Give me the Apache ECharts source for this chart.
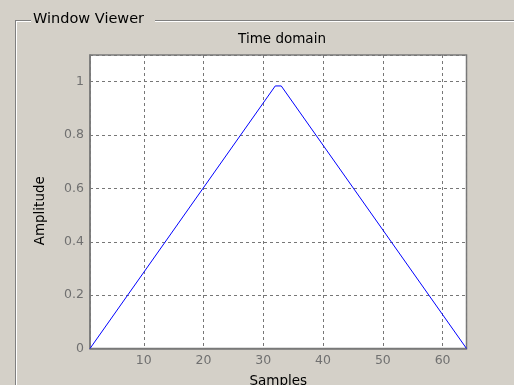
<!DOCTYPE html>
<html>
<head>
<meta charset="utf-8">
<script src="https://cdn.jsdelivr.net/npm/echarts@6/dist/echarts.min.js"></script>
<style>
  html, body { margin: 0; padding: 0; background: #d4d0c8; }
  #chart { width: 514px; height: 385px; }
</style>
</head>
<body>
<div id="chart"></div>
<script>
// Bartlett window vertices: sample index and amplitude
var sampleIdx = [1, 32, 33, 64];
var amplitude = [0, 0.984, 0.984, 0];

var panelTitle = 'Window Viewer';
var plotTitle = 'Time domain';
var xName = 'Samples';
var yName = 'Amplitude';

var FONT = 'DejaVu Sans';
var GRAY = '#7a7a7a';

var chart = echarts.init(document.getElementById('chart'), null, { renderer: 'canvas' });

var points = sampleIdx.map(function (x, i) { return [x, amplitude[i]]; });

chart.setOption({
  backgroundColor: '#d4d0c8',
  animation: false,
  title: {
    text: plotTitle,
    left: 277,
    top: 27,
    textAlign: 'center',
    textStyle: { fontFamily: FONT, fontSize: 13.5, fontWeight: 'normal', color: '#000' }
  },
  graphic: [
    // etched group-box frame
    { type: 'line', shape: { x1: 15, y1: 20.5, x2: 31, y2: 20.5 }, style: { stroke: '#808080', lineWidth: 1 }, silent: true },
    { type: 'line', shape: { x1: 16, y1: 21.5, x2: 31, y2: 21.5 }, style: { stroke: '#ffffff', lineWidth: 1 }, silent: true },
    { type: 'line', shape: { x1: 155, y1: 20.5, x2: 514, y2: 20.5 }, style: { stroke: '#808080', lineWidth: 1 }, silent: true },
    { type: 'line', shape: { x1: 155, y1: 21.5, x2: 514, y2: 21.5 }, style: { stroke: '#ffffff', lineWidth: 1 }, silent: true },
    { type: 'line', shape: { x1: 15.5, y1: 20, x2: 15.5, y2: 385 }, style: { stroke: '#808080', lineWidth: 1 }, silent: true },
    { type: 'line', shape: { x1: 16.5, y1: 21, x2: 16.5, y2: 385 }, style: { stroke: '#ffffff', lineWidth: 1 }, silent: true },
    {
      type: 'text', left: 33, top: 12, silent: true,
      style: { text: panelTitle, fontFamily: FONT, fontSize: 14.5, fill: '#000' }
    }
  ],
  grid: {
    left: 90, top: 55, right: 47.5, bottom: 36.5,
    outerBoundsMode: 'none', containLabel: false,
    show: true, backgroundColor: '#ffffff', borderColor: GRAY, borderWidth: 1.5
  },
  xAxis: {
    type: 'value', min: 1, max: 64,
    name: xName, nameLocation: 'middle', nameGap: 25.5,
    nameTextStyle: { fontFamily: FONT, fontSize: 13.5, color: '#000' },
    axisLine: { show: true, lineStyle: { color: GRAY, width: 1.5 } },
    axisTick: { show: false },
    axisLabel: {
      showMinLabel: false, showMaxLabel: false, margin: 6,
      fontFamily: FONT, fontSize: 12.5, color: '#707070'
    },
    splitLine: { show: true, lineStyle: { color: '#777', type: [3, 3], width: 1 } }
  },
  yAxis: {
    type: 'value', min: 0, max: 1.1, interval: 0.2,
    name: yName, nameLocation: 'middle', nameGap: 43, nameRotate: 90,
    nameTextStyle: { fontFamily: FONT, fontSize: 13.5, color: '#000', padding: [0, 18, 0, 0] },
    axisLine: { show: true, lineStyle: { color: GRAY, width: 1.5 } },
    axisTick: { show: false },
    axisLabel: {
      showMaxLabel: false, margin: 6,
      fontFamily: FONT, fontSize: 12.5, color: '#707070'
    },
    splitLine: { show: true, lineStyle: { color: '#777', type: [3, 3], width: 1 } }
  },
  series: [{
    type: 'line',
    data: points,
    symbol: 'none',
    lineStyle: { color: '#0000ff', width: 1 },
    itemStyle: { color: '#0000ff' }
  }]
});
</script>
</body>
</html>
